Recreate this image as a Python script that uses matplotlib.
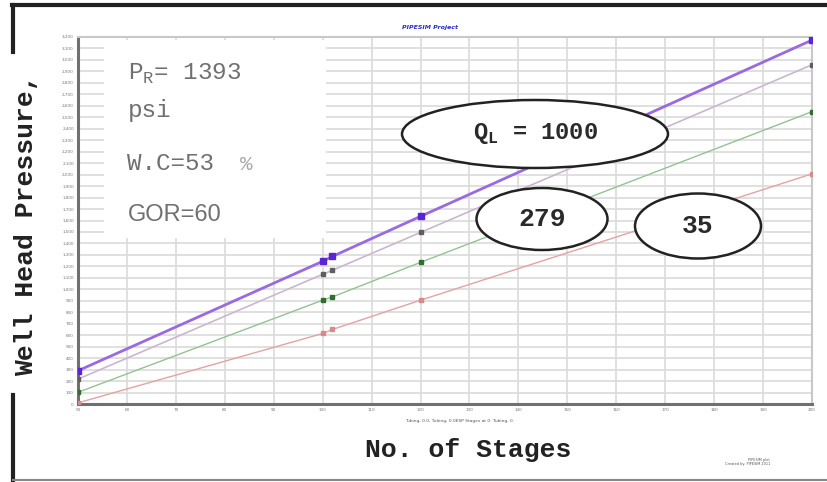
import matplotlib
matplotlib.use("Agg")
import matplotlib.pyplot as plt
from matplotlib.patches import Ellipse, Rectangle
from matplotlib.lines import Line2D
from matplotlib.ticker import FuncFormatter

# data: stages vs well head pressure (psi)
stages = [50, 100, 102, 120, 200]
p_q1000 = [290, 1244, 1287, 1636, 3173]
p_gray = [217, 1131, 1166, 1496, 2958]
p_green = [102, 905, 934, 1235, 2549]
p_red = [10, 615, 650, 905, 2007]

x_ticks = list(range(50, 201, 10))
y_ticks = list(range(0, 3201, 100))

W, H = 828, 482


def fx(x):
    return x / W


def fy(y):
    return 1 - y / H


fig = plt.figure(figsize=(W / 100, H / 100), dpi=100)
fig.patch.set_facecolor("white")

# plot area
ax = fig.add_axes([fx(78), fy(404), fx(812) - fx(78), fy(37) - fy(404)])
ax.set_xlim(50, 200)
ax.set_ylim(0, 3200)
ax.set_xticks(x_ticks)
ax.set_yticks(y_ticks)
ax.yaxis.set_major_formatter(FuncFormatter(lambda v, p: f"{int(v):,}"))
ax.tick_params(labelsize=3, colors="#777777", length=0, pad=3)
ax.grid(True, color="#dadada", linewidth=1.2)
ax.set_axisbelow(True)
for side in ("left", "bottom"):
    ax.spines[side].set_color("#707070")
    ax.spines[side].set_linewidth(2.2)
for side in ("top", "right"):
    ax.spines[side].set_color("#c8c8c8")
    ax.spines[side].set_linewidth(1.5)

ax.plot(stages, p_red, color="#e3a3a3", lw=1.0, marker="s", ms=2.5,
        mfc="#d88a8a", mec="#d88a8a", zorder=3)
ax.plot(stages, p_green, color="#94c294", lw=1.0, marker="s", ms=3,
        mfc="#2f6f2f", mec="#2f6f2f", zorder=3)
ax.plot(stages, p_gray, color="#cbb6cf", lw=1.2, marker="s", ms=3,
        mfc="#5f5f5f", mec="#5f5f5f", zorder=3)
ax.plot(stages, p_q1000, color="#9a6ae0", lw=2.0, marker="s", ms=4.5,
        mfc="#5b25d6", mec="#5b25d6", zorder=4)

# white box with well parameters
fig.patches.append(Rectangle((fx(104), fy(238)), fx(326) - fx(104), fy(40) - fy(238),
                             transform=fig.transFigure, facecolor="white",
                             edgecolor="none", zorder=2))
mono = "Liberation Mono"
fig.text(fx(128), fy(74), r"P$_{\mathregular{R}}$= 1393", family=mono, fontsize=17.5,
         color="#707070", va="center", zorder=5)
fig.text(fx(128), fy(110), "psi", family=mono, fontsize=17.5, color="#707070",
         va="center", zorder=5)
fig.text(fx(127), fy(164), "W.C=53", family=mono, fontsize=17.5, color="#707070",
         va="center", zorder=5)
fig.text(fx(240), fy(165), "%", family=mono, fontsize=15, color="#a8a8a8",
         va="center", zorder=5)
fig.text(fx(128), fy(215), "GOR=60", family="Liberation Sans", fontsize=17,
         color="#707070", va="center", zorder=5)

# ellipse annotations
ellipses = [
    ((535, 134), 266, 68, r"Q$_{\mathregular{L}}$ = 1000", 17),
    ((542, 219), 131, 62, "279", 19),
    ((698, 226), 126, 65, "35", 19),
]
for (cx, cy), w, h, label, size in ellipses:
    fig.patches.append(Ellipse((fx(cx), fy(cy)), fx(w), h / H,
                               transform=fig.transFigure, facecolor="white",
                               edgecolor="#222222", lw=1.8, zorder=6))
    fig.text(fx(cx), fy(cy), label, family=mono, fontsize=size, fontweight="bold",
             color="#2a2a2a", ha="center", va="center", zorder=7)

# titles and labels
fig.text(fx(430), fy(28), "PIPESIM Project", fontsize=4.5, color="#2a2ad0",
         style="italic", fontweight="bold", ha="center", va="center")
fig.text(fx(460), fy(421), "Tubing, 0.0, Tubing, 0.0ESP Stages at 0. Tubing, 0.",
         fontsize=3.2, color="#555555", ha="center", va="center")
fig.text(fx(468), fy(450), "No. of Stages", family=mono, fontsize=19,
         fontweight="bold", color="#222222", ha="center", va="center")
fig.text(fx(26), fy(225), "Well Head Pressure,", family=mono, fontsize=19,
         fontweight="bold", color="#222222", ha="center", va="center",
         rotation=90)
fig.text(fx(770), fy(462), "PIPESIM plot\nCreated by: PIPESIM 2011", fontsize=2.5,
         color="#555555", ha="right", va="center")

# outer frame fragments
fig.lines.append(Line2D([fx(12), fx(828)], [fy(5), fy(5)], transform=fig.transFigure,
                        color="#222222", lw=3))
fig.lines.append(Line2D([fx(13), fx(13)], [fy(5), fy(52)], transform=fig.transFigure,
                        color="#222222", lw=3))
fig.lines.append(Line2D([fx(13), fx(13)], [fy(395), fy(482)], transform=fig.transFigure,
                        color="#222222", lw=3))
fig.lines.append(Line2D([fx(13), fx(828)], [fy(480), fy(480)], transform=fig.transFigure,
                        color="#888888", lw=1.5))

fig.savefig("out.png", dpi=100)
